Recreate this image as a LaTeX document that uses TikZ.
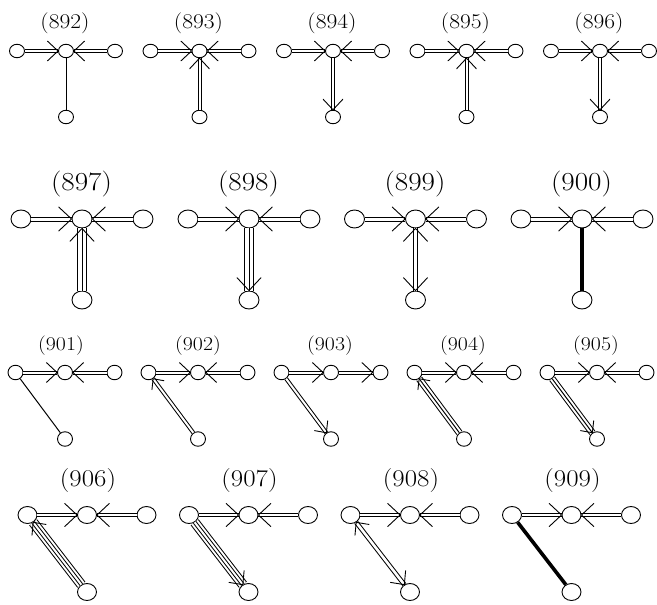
\documentclass[tikz,border=0pt]{standalone}
\usepackage{fontspec}
\usetikzlibrary{calc,shapes.geometric}
\tikzset{
  vs/.style={ellipse, draw, fill=white, line width=0.9pt, inner sep=0pt, minimum width=15pt, minimum height=13.5pt},
  vl/.style={vs, minimum width=20pt, minimum height=18pt},
  vm/.style={vs, minimum width=15pt, minimum height=14.5pt},
  vk/.style={vs, minimum width=19pt, minimum height=17pt},
  ln/.style={line width=1pt},
  e2s/.style={ln, double, double distance=2pt},
  e2l/.style={ln, double, double distance=3pt},
  e2k/.style={ln, double, double distance=2.6pt},
  thick line/.style={line width=3.6pt},
  arm/.style={line width=0.9pt, line cap=round},
  lab/.style={inner sep=0pt}
}
\newcommand\fig[6]{%
  \node[#6] (L#1) at ({#2-#4},#3) {};
  \node[#6] (C#1) at (#2,#3) {};
  \node[#6] (R#1) at ({#2+#4},#3) {};
  \node[#6] (B#1) at (#2,#5) {};
}
\newcommand\lbl[4]{\node[lab] (T#1) at (#2,#3) {\fontsize{#4}{#4}\selectfont\scalebox{1.12}[1]{(#1)}};}
\newcommand\ed[4]{\draw[#1] (#2) -- (#3) node[pos=0,coordinate] (#4a) {} node[pos=1,coordinate] (#4b) {};}
\newcommand\edIII[4]{%
  \draw[ln, double, double distance=#1] (#2) -- (#3) node[pos=0,coordinate] (#4a) {} node[pos=1,coordinate] (#4b) {};
  \draw[ln] (#2) -- (#3);}
\newcommand\edIV[3]{%
  \draw[ln, double, double distance=8pt] (#1) -- (#2) node[pos=0,coordinate] (#3a) {} node[pos=1,coordinate] (#3b) {};
  \draw[ln, double, double distance=2pt] (#1) -- (#2);}
\newcommand\chev[3]{\draw[arm] ($(#1)!#3!43:(#2)$) -- (#1) -- ($(#1)!#3!-43:(#2)$);}
\newcommand\hor[3]{%
  \ed{#2}{L#1}{C#1}{hl#1}
  \ed{#2}{R#1}{C#1}{hr#1}
  \chev{hl#1b}{L#1}{#3}
  \chev{hr#1b}{R#1}{#3}}
\begin{document}
\begin{tikzpicture}[x=1pt, y=-1pt]
\useasboundingbox (0,0) rectangle (657,605);
% ---------------- Row 1 ----------------
\fig{892}{66}{51}{49}{117}{vs}
\fig{893}{199.5}{51}{49}{117}{vs}
\fig{894}{333}{51}{49}{117}{vs}
\fig{895}{466.5}{51}{49}{117}{vs}
\fig{896}{600}{51}{49}{117}{vs}
\lbl{892}{65}{23}{21}
\lbl{893}{198.5}{23}{21}
\lbl{894}{332}{23}{21}
\lbl{895}{465.5}{23}{21}
\lbl{896}{599}{23}{21}
% 892
\ed{ln}{C892}{B892}{v892}
\hor{892}{e2s}{14.5pt}
% 893
\ed{e2s}{B893}{C893}{v893}
\hor{893}{e2s}{14.5pt}
\chev{v893b}{B893}{14.5pt}
% 894
\ed{e2s}{C894}{B894}{v894}
\hor{894}{e2s}{14.5pt}
\chev{v894b}{C894}{14.5pt}
% 895
\ed{e2s}{B895}{C895}{v895}
\hor{895}{e2s}{14.5pt}
\chev{v895b}{B895}{14.5pt}
% 896
\ed{e2s}{C896}{B896}{v896}
\hor{896}{e2s}{14.5pt}
\chev{v896b}{C896}{14.5pt}
% ---------------- Row 2 ----------------
\fig{897}{82}{219}{61}{300}{vl}
\fig{898}{249}{219}{61}{300}{vl}
\fig{899}{415.5}{219}{61}{300}{vl}
\fig{900}{582}{219}{61}{300}{vl}
\lbl{897}{81.5}{184.5}{26}
\lbl{898}{248.5}{184.5}{26}
\lbl{899}{415}{184.5}{26}
\lbl{900}{581.5}{184.5}{26}
% 897
\edIII{7.6pt}{B897}{C897}{v897}
\hor{897}{e2l}{17.5pt}
\chev{v897b}{B897}{17.5pt}
% 898
\edIII{7.6pt}{C898}{B898}{v898}
\hor{898}{e2l}{17.5pt}
\chev{v898b}{C898}{17.5pt}
% 899
\ed{e2l}{C899}{B899}{v899}
\hor{899}{e2l}{17.5pt}
\chev{v899a}{B899}{17.5pt}
\chev{v899b}{C899}{17.5pt}
% 900
\draw[thick line] (C900) -- (B900);
\hor{900}{e2l}{17.5pt}
% ---------------- Row 3 ----------------
\fig{901}{65}{372.5}{49.5}{439}{vm}
\fig{902}{198}{372.5}{49.5}{439}{vm}
\fig{903}{331}{372.5}{49.5}{439}{vm}
\fig{904}{464}{372.5}{49.5}{439}{vm}
\fig{905}{597}{372.5}{49.5}{439}{vm}
\lbl{901}{61}{346}{19.5}
\lbl{902}{198}{346}{19.5}
\lbl{903}{330}{346}{19.5}
\lbl{904}{463}{346}{19.5}
\lbl{905}{596}{346}{19.5}
% 901
\ed{ln}{L901}{B901}{d901}
\hor{901}{e2s}{14.5pt}
% 902
\ed{e2s}{B902}{L902}{d902}
\hor{902}{e2s}{14.5pt}
\chev{d902b}{B902}{11pt}
% 903
\ed{e2s}{L903}{B903}{d903}
\ed{e2s}{L903}{C903}{hl903}
\ed{e2s}{C903}{R903}{hr903}
\chev{hl903b}{L903}{14.5pt}
\chev{hr903b}{C903}{14.5pt}
\chev{d903b}{L903}{12pt}
% 904
\edIII{5pt}{B904}{L904}{d904}
\hor{904}{e2s}{14.5pt}
\chev{d904b}{B904}{11pt}
% 905
\edIII{5pt}{L905}{B905}{d905}
\hor{905}{e2s}{14.5pt}
\chev{d905b}{L905}{12pt}
% ---------------- Row 4 ----------------
\fig{906}{87}{515}{59.5}{592}{vk}
\fig{907}{248.5}{515}{59.5}{592}{vk}
\fig{908}{410}{515}{59.5}{592}{vk}
\fig{909}{571.5}{515}{59.5}{592}{vk}
\lbl{906}{88}{481}{24}
\lbl{907}{249.5}{481}{24}
\lbl{908}{411}{481}{24}
\lbl{909}{572.5}{481}{24}
% 906
\edIV{B906}{L906}{d906}
\hor{906}{e2k}{17pt}
\chev{d906b}{B906}{13pt}
% 907
\edIV{L907}{B907}{d907}
\hor{907}{e2k}{17pt}
\chev{d907b}{L907}{14pt}
% 908
\ed{e2k}{L908}{B908}{d908}
\hor{908}{e2k}{17pt}
\chev{d908a}{B908}{13pt}
\chev{d908b}{L908}{14pt}
% 909
\draw[thick line] (L909) -- (B909);
\hor{909}{e2k}{17pt}
\end{tikzpicture}
\end{document}
